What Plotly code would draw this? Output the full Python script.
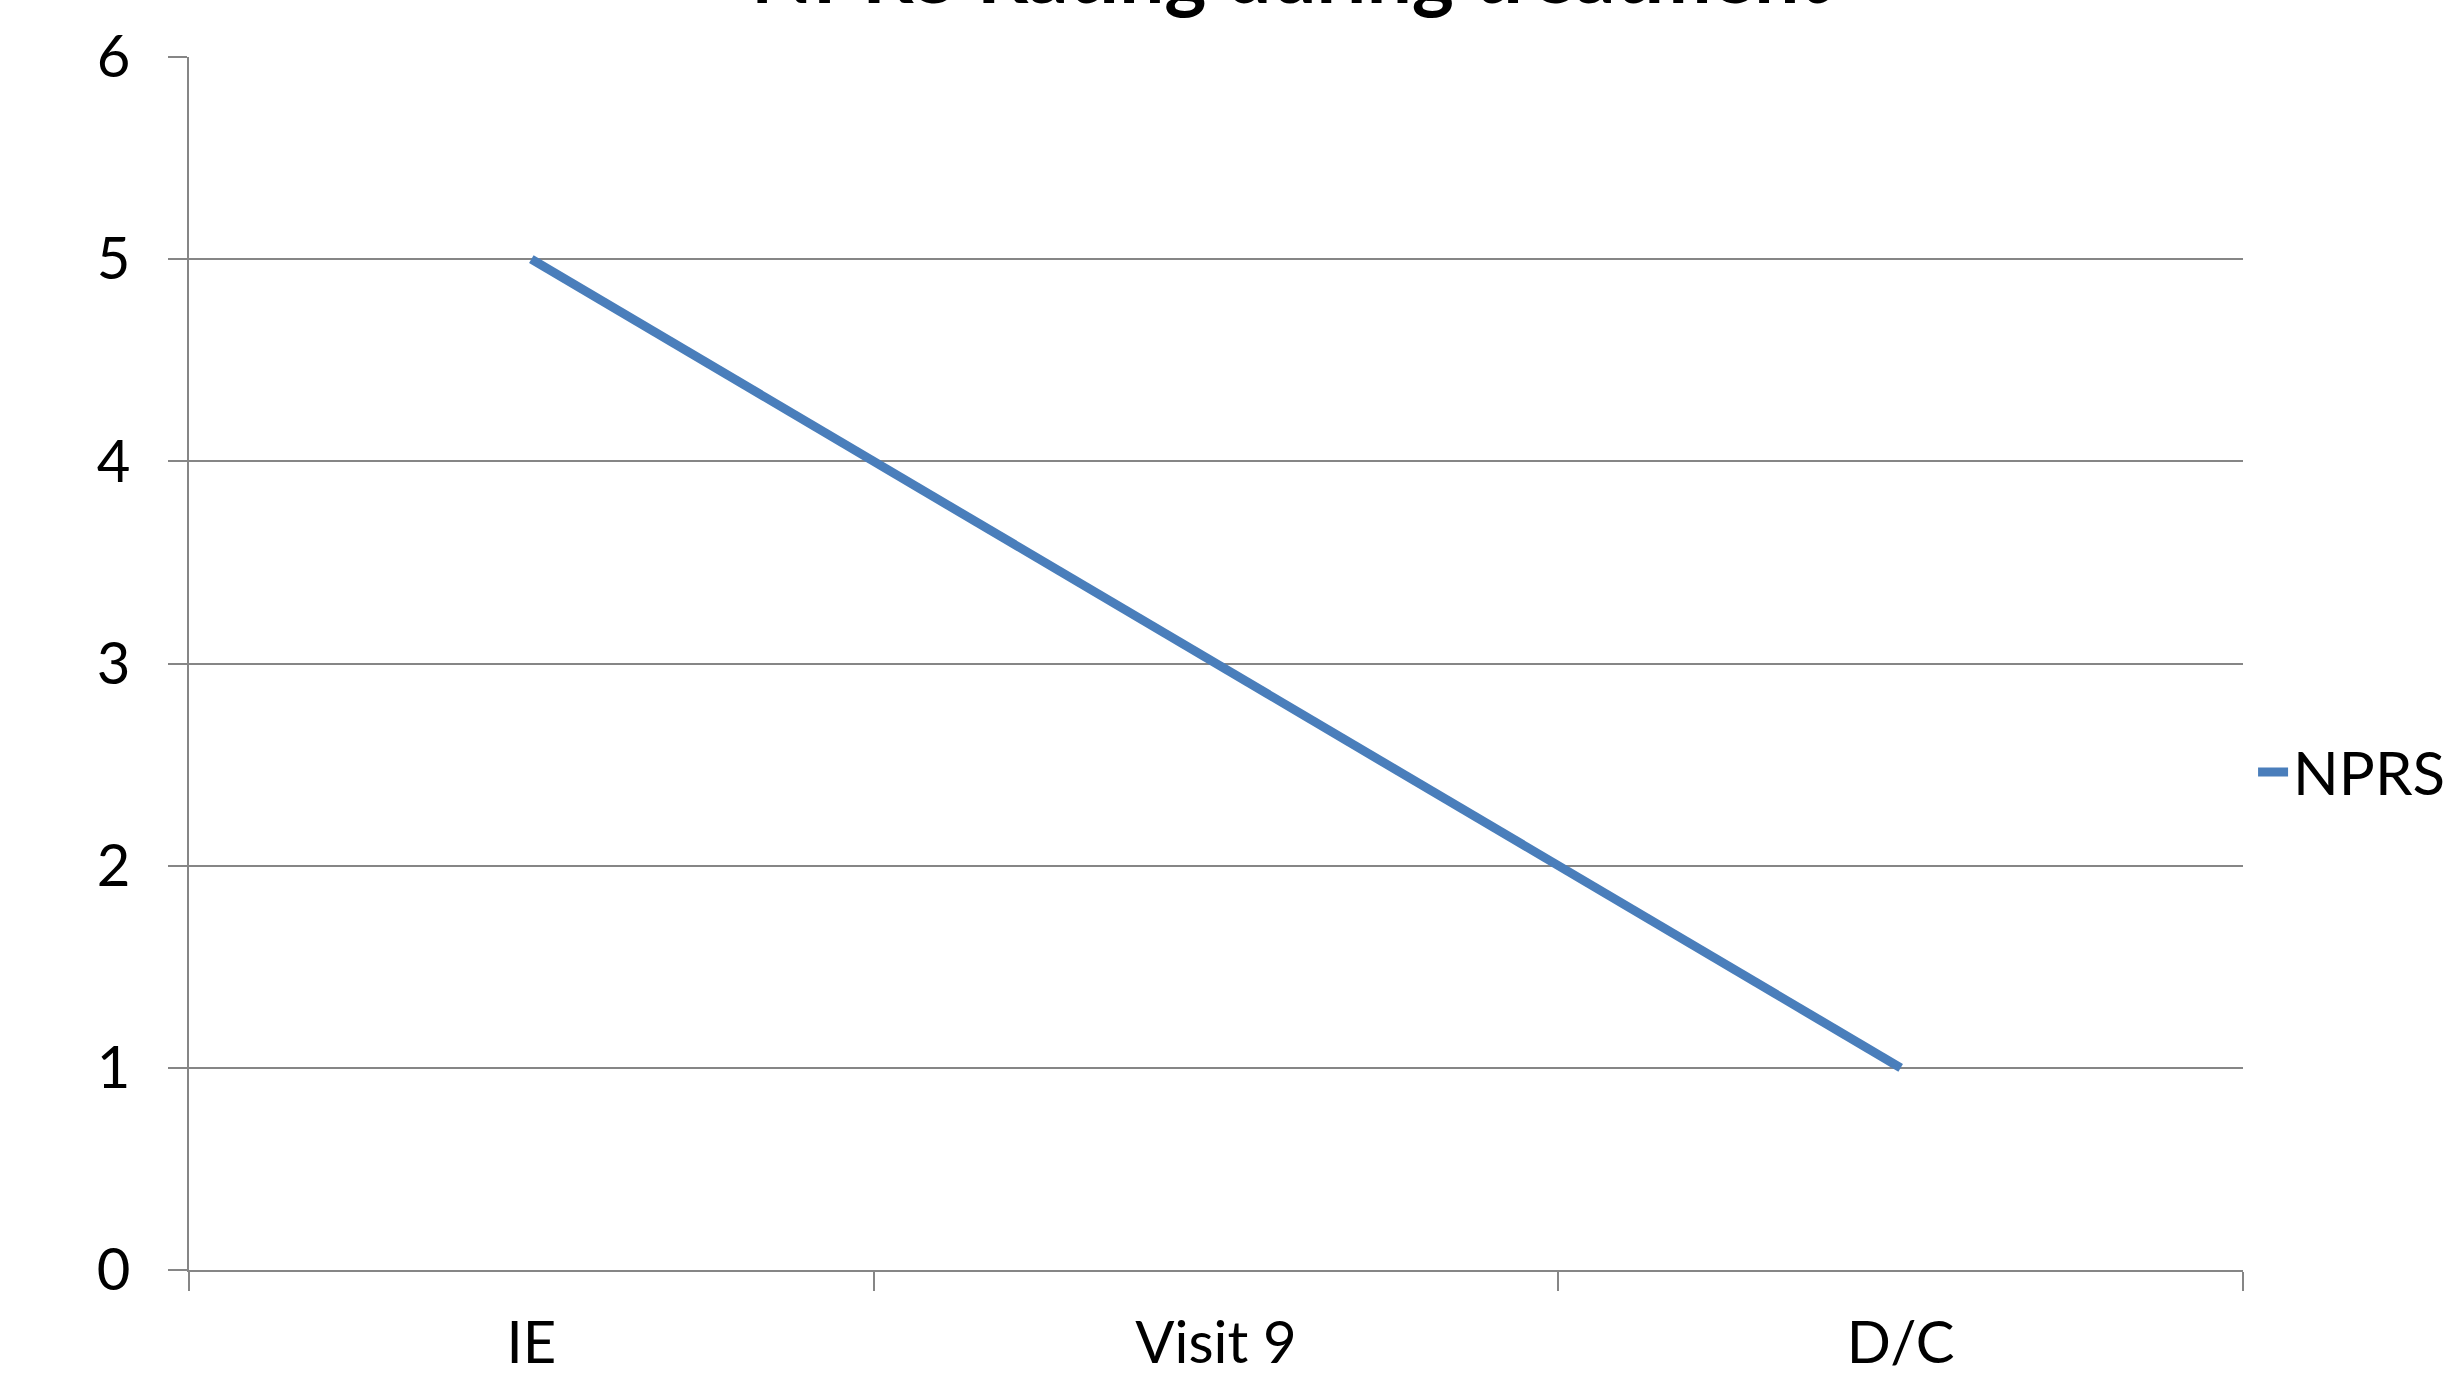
import plotly.graph_objects as go

# NPRS pain scores recorded across the episode of care
visits = ["IE", "Visit 9", "D/C"]
nprs = [5, 3, 1]
y_ticks = [0, 1, 2, 3, 4, 5, 6]

title_text = "NPRS Rating during treatment"
series_name = "NPRS"

LINE_BLUE = "#4A7EBB"
GRID_GRAY = "#868686"
FONT = "Lato, 'Open Sans', sans-serif"

fig = go.Figure()
fig.add_trace(go.Scatter(
    x=visits,
    y=nprs,
    mode="lines",
    name=series_name,
    line=dict(color=LINE_BLUE, width=9),
    showlegend=True,
))

fig.update_layout(
    width=2462,
    height=1373,
    margin=dict(l=189, r=217, t=57, b=103, pad=0),
    paper_bgcolor="white",
    plot_bgcolor="white",
    font=dict(family=FONT, size=58, color="black"),
    showlegend=True,
    legend=dict(
        x=1.0049, y=0.4106, xanchor="left", yanchor="middle",
        font=dict(family=FONT, size=60, color="black"),
        bgcolor="rgba(0,0,0,0)",
        borderwidth=0,
    ),
    annotations=[dict(
        text="<b>" + title_text + "</b>",
        xref="paper", yref="paper",
        x=0.536, y=1.0289,
        xanchor="center", yanchor="bottom",
        showarrow=False,
        font=dict(family=FONT, size=80, color="black"),
    )],
)

fig.update_xaxes(
    type="category",
    categoryorder="array",
    categoryarray=visits,
    range=[-0.5, len(visits) - 0.5],
    tickson="boundaries",
    ticks="outside",
    ticklen=19,
    tickwidth=2,
    tickcolor=GRID_GRAY,
    showline=True,
    linecolor=GRID_GRAY,
    linewidth=2,
    showgrid=False,
    zeroline=False,
    automargin=False,
    ticklabelstandoff=21,
    tickfont=dict(family=FONT, size=58, color="black"),
)

fig.update_yaxes(
    range=[0, 6],
    tickmode="array",
    tickvals=y_ticks,
    ticktext=[str(v) for v in y_ticks],
    ticks="outside",
    ticklen=19,
    tickwidth=2,
    tickcolor=GRID_GRAY,
    showline=True,
    linecolor=GRID_GRAY,
    linewidth=2,
    showgrid=True,
    gridcolor=GRID_GRAY,
    gridwidth=2,
    zeroline=False,
    automargin=False,
    ticklabelstandoff=26,
    tickfont=dict(family=FONT, size=58, color="black"),
)

fig.write_html("out.html")
